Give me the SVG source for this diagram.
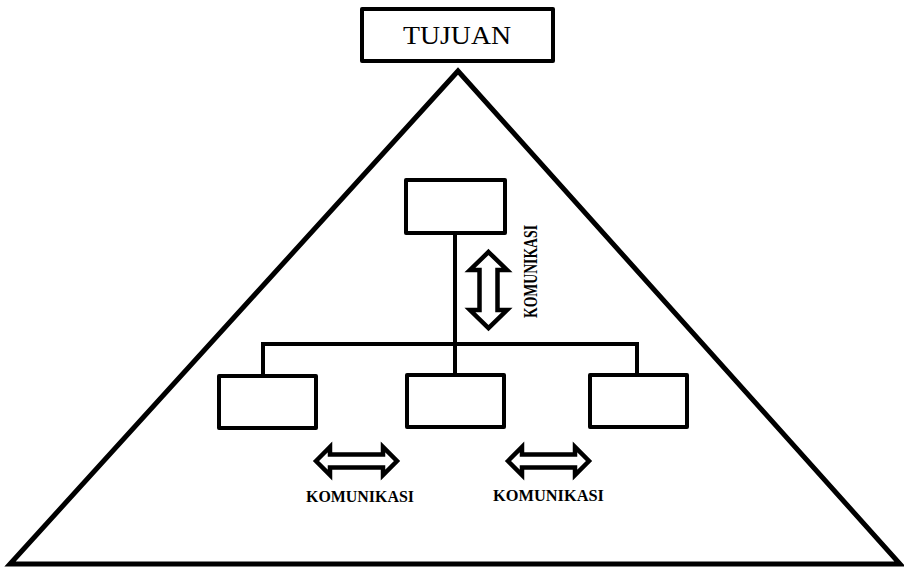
<svg xmlns="http://www.w3.org/2000/svg" width="904" height="572" viewBox="0 0 904 572">
<style>
.box{fill:#fff;stroke:#000;stroke-width:4;stroke-linejoin:round}
.ln{fill:none;stroke:#000;stroke-width:4}
.arr{fill:#fff;stroke:#000;stroke-width:4.5;stroke-linejoin:miter}
.lbl{font-family:"Liberation Serif",serif;font-weight:bold;fill:#000}
</style>
<rect width="904" height="572" fill="#fff"/>
<g id="triangle">
<polygon points="458,71 10,564 900,564" fill="none" stroke="#000" stroke-width="5" stroke-linejoin="miter" stroke-miterlimit="10"/>
</g>
<g id="tujuan">
<rect class="box" x="362" y="9" width="191" height="52"/>
<text x="457" y="44" font-family="Liberation Serif, serif" font-size="26" text-anchor="middle" textLength="108" lengthAdjust="spacingAndGlyphs">TUJUAN</text>
</g>
<g id="connectors">
<line class="ln" x1="455" y1="233" x2="455" y2="375"/>
<polyline class="ln" points="263,375 263,344 637,344 637,375"/>
<path class="arr" d="M488.5,252 L507,270 L497.5,270 L497.5,310 L507,310 L488.5,328 L470,310 L479.5,310 L479.5,270 L470,270 Z"/>
<path class="arr" d="M316,461 L330,447 L330,454.5 L383,454.5 L383,447 L397,461 L383,475 L383,467.5 L330,467.5 L330,475 Z"/>
<path class="arr" d="M508,461 L522,447 L522,454.5 L575,454.5 L575,447 L589,461 L575,475 L575,467.5 L522,467.5 L522,475 Z"/>
<text class="lbl" transform="translate(537,318) rotate(-90)" font-size="18" textLength="93" lengthAdjust="spacingAndGlyphs">KOMUNIKASI</text>
<text class="lbl" x="306" y="502" font-size="17" textLength="108" lengthAdjust="spacingAndGlyphs">KOMUNIKASI</text>
<text class="lbl" x="493" y="501" font-size="17" textLength="111" lengthAdjust="spacingAndGlyphs">KOMUNIKASI</text>
</g>
<g id="top-node"><rect class="box" x="406" y="180" width="99" height="53"/></g>
<g id="left-node"><rect class="box" x="219" y="376" width="97" height="52"/></g>
<g id="mid-node"><rect class="box" x="407" y="375" width="97" height="52"/></g>
<g id="right-node"><rect class="box" x="590" y="375" width="97" height="52"/></g>
</svg>
